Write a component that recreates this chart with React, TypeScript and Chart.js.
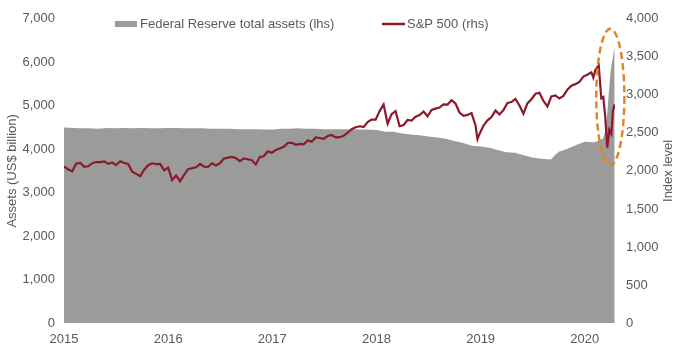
import React, { useEffect, useRef } from 'react';
import { Chart, registerables } from 'chart.js';

Chart.register(...registerables);

// ---------- data ----------
const fedDates = [
  '2015-01-01','2015-02-01','2015-03-01','2015-04-01','2015-05-01','2015-06-01','2015-07-01','2015-08-01','2015-09-01','2015-10-01','2015-11-01','2015-12-01',
  '2016-01-01','2016-02-01','2016-03-01','2016-04-01','2016-05-01','2016-06-01','2016-07-01','2016-08-01','2016-09-01','2016-10-01','2016-11-01','2016-12-01',
  '2017-01-01','2017-02-01','2017-03-01','2017-04-01','2017-05-01','2017-06-01','2017-07-01','2017-08-01','2017-09-01','2017-10-01','2017-11-01','2017-12-01',
  '2018-01-01','2018-02-01','2018-03-01','2018-04-01','2018-05-01','2018-06-01','2018-07-01','2018-08-01','2018-09-01','2018-10-01','2018-11-01','2018-12-01',
  '2019-01-01','2019-02-01','2019-03-01','2019-04-01','2019-05-01','2019-06-01','2019-07-01','2019-08-01','2019-09-04','2019-09-18','2019-10-02','2019-11-06','2019-12-04',
  '2020-01-01','2020-02-05','2020-03-04','2020-03-11','2020-03-18','2020-03-25','2020-04-01','2020-04-08','2020-04-15',
];
const fedValues = [
  4500,4490,4480,4480,4470,4490,4480,4490,4480,4490,4480,4480,
  4490,4490,4480,4480,4480,4470,4470,4470,4460,4460,4460,4450,
  4450,4470,4470,4480,4470,4470,4460,4460,4460,4460,4450,4450,
  4440,4400,4400,4360,4340,4320,4290,4270,4240,4190,4140,4080,
  4060,4030,3980,3930,3920,3860,3810,3780,3760,3860,3940,4020,4100,
  4170,4160,4240,4360,4670,5250,5810,6080,6370,
];

const spDates = [
  '2015-01-02','2015-01-16','2015-01-30','2015-02-13','2015-02-27','2015-03-13','2015-03-27','2015-04-10','2015-04-24','2015-05-08','2015-05-22','2015-06-05','2015-06-19','2015-07-02','2015-07-17','2015-07-31','2015-08-14','2015-08-28','2015-09-11','2015-09-25','2015-10-09','2015-10-23','2015-11-06','2015-11-20','2015-12-04','2015-12-18',
  '2016-01-01','2016-01-15','2016-01-29','2016-02-12','2016-02-26','2016-03-11','2016-03-24','2016-04-08','2016-04-22','2016-05-06','2016-05-20','2016-06-03','2016-06-17','2016-07-01','2016-07-15','2016-07-29','2016-08-12','2016-08-26','2016-09-09','2016-09-23','2016-10-07','2016-10-21','2016-11-04','2016-11-18','2016-12-02','2016-12-16','2016-12-30',
  '2017-01-13','2017-01-27','2017-02-10','2017-02-24','2017-03-10','2017-03-24','2017-04-07','2017-04-21','2017-05-05','2017-05-19','2017-06-02','2017-06-16','2017-06-30','2017-07-14','2017-07-28','2017-08-11','2017-08-25','2017-09-08','2017-09-22','2017-10-06','2017-10-20','2017-11-03','2017-11-17','2017-12-01','2017-12-15','2017-12-29',
  '2018-01-12','2018-01-26','2018-02-09','2018-02-23','2018-03-09','2018-03-23','2018-04-06','2018-04-20','2018-05-04','2018-05-18','2018-06-01','2018-06-15','2018-06-29','2018-07-13','2018-07-27','2018-08-10','2018-08-24','2018-09-07','2018-09-21','2018-10-05','2018-10-19','2018-11-02','2018-11-16','2018-11-30','2018-12-14','2018-12-21','2018-12-28',
  '2019-01-11','2019-01-25','2019-02-08','2019-02-22','2019-03-08','2019-03-22','2019-04-05','2019-04-19','2019-05-03','2019-05-17','2019-05-31','2019-06-14','2019-06-28','2019-07-12','2019-07-26','2019-08-09','2019-08-23','2019-09-06','2019-09-20','2019-10-04','2019-10-18','2019-11-01','2019-11-15','2019-11-29','2019-12-13','2019-12-27',
  '2020-01-10','2020-01-24','2020-01-31','2020-02-07','2020-02-19','2020-02-28','2020-03-06','2020-03-13','2020-03-20','2020-03-27','2020-04-03','2020-04-09','2020-04-15',
];
const spValues = [
  2058,2019,1995,2096,2104,2053,2061,2102,2117,2116,2126,2092,2110,2077,2127,2104,2092,1989,1961,1931,2015,2075,2100,2089,2092,2006,
  2044,1880,1940,1865,1948,2022,2035,2048,2092,2057,2052,2099,2071,2103,2162,2174,2184,2169,2128,2165,2153,2141,2085,2182,2192,2258,2239,
  2275,2295,2317,2367,2373,2344,2356,2349,2399,2382,2439,2433,2423,2459,2472,2441,2443,2461,2502,2549,2575,2587,2578,2642,2675,2674,
  2786,2873,2620,2747,2786,2588,2604,2670,2663,2713,2735,2780,2718,2801,2819,2833,2875,2872,2930,2886,2768,2723,2736,2760,2600,2417,2486,
  2596,2665,2708,2793,2743,2800,2893,2905,2946,2860,2752,2887,2942,3014,3026,2919,2847,2979,2992,2952,2986,3067,3120,3141,3169,3240,
  3265,3295,3226,3328,3386,2954,2972,2711,2305,2541,2489,2790,2875,
];

const yearTicks = [2015, 2016, 2017, 2018, 2019, 2020];
const xMin = 2015;
const xMax = 2020.29;

const legendFed = 'Federal Reserve total assets (lhs)';
const legendSp = 'S&P 500 (rhs)';
const leftTitle = 'Assets (US$ billion)';
const rightTitle = 'Index level';

// ellipse annotation in data units (x: years, y: left axis)
const ellipseCenter = { x: 2020.245, y: 5200 };
const ellipseHalf = { x: 0.135, y: 1570 };

// ---------- styles ----------
const AREA = '#9b9b9b';
const LINE = '#8c1a2b';
const TEXT = '#595959';
const ORANGE = '#e0862a';
const FONT_FAMILY = '"Liberation Sans", Arial, sans-serif';

function toYear(d: string): number {
  const [y, m, dd] = d.split('-').map(Number);
  const start = Date.UTC(y, 0, 1);
  const end = Date.UTC(y + 1, 0, 1);
  return y + (Date.UTC(y, m - 1, dd) - start) / (end - start);
}

const overlayPlugin = {
  id: 'overlay',
  afterDraw(chart: any) {
    const ctx = chart.ctx as CanvasRenderingContext2D;
    const area = chart.chartArea;
    const xs = chart.scales.x;
    const ys = chart.scales.y;
    ctx.save();
    // ellipse
    const cx = xs.getPixelForValue(ellipseCenter.x);
    const cy = ys.getPixelForValue(ellipseCenter.y);
    const rx = Math.abs(xs.getPixelForValue(ellipseCenter.x + ellipseHalf.x) - cx);
    const ry = Math.abs(ys.getPixelForValue(ellipseCenter.y + ellipseHalf.y) - cy);
    ctx.beginPath();
    ctx.ellipse(cx, cy, rx, ry, 0, 0, Math.PI * 2);
    ctx.strokeStyle = ORANGE;
    ctx.lineWidth = 2.5;
    ctx.setLineDash([7, 4]);
    ctx.stroke();
    ctx.setLineDash([]);

    // legend
    ctx.font = `13px ${FONT_FAMILY}`;
    ctx.textBaseline = 'middle';
    ctx.textAlign = 'left';
    ctx.fillStyle = AREA;
    ctx.fillRect(115, 21, 22, 6);
    ctx.fillStyle = TEXT;
    ctx.fillText(legendFed, 140, 24);
    ctx.beginPath();
    ctx.moveTo(382, 24);
    ctx.lineTo(405, 24);
    ctx.strokeStyle = LINE;
    ctx.lineWidth = 2.5;
    ctx.stroke();
    ctx.fillText(legendSp, 407, 24);

    // axis titles
    const midY = (area.top + area.bottom) / 2;
    ctx.textAlign = 'center';
    ctx.save();
    ctx.translate(12, midY);
    ctx.rotate(-Math.PI / 2);
    ctx.fillText(leftTitle, 0, 0);
    ctx.restore();
    ctx.save();
    ctx.translate(668, midY);
    ctx.rotate(-Math.PI / 2);
    ctx.fillText(rightTitle, 0, 0);
    ctx.restore();
    ctx.restore();
  },
};

export default function App() {
  const ref = useRef<HTMLCanvasElement | null>(null);

  useEffect(() => {
    if (!ref.current) return;
    const font = { family: FONT_FAMILY, size: 13 };
    const chart = new Chart(ref.current, {
      type: 'line',
      data: {
        datasets: [
          {
            label: legendSp,
            data: spDates.map((d, i) => ({ x: toYear(d), y: spValues[i] })),
            yAxisID: 'y2',
            borderColor: LINE,
            borderWidth: 2.2,
            pointRadius: 0,
            fill: false,
            tension: 0,
            order: 0,
          },
          {
            label: legendFed,
            data: fedDates.map((d, i) => ({ x: toYear(d), y: fedValues[i] })),
            yAxisID: 'y',
            borderWidth: 0,
            borderColor: AREA,
            backgroundColor: AREA,
            pointRadius: 0,
            fill: 'origin',
            tension: 0,
            order: 1,
          },
        ],
      },
      options: {
        animation: false,
        responsive: false,
        maintainAspectRatio: false,
        layout: { padding: { top: 10, left: 0, right: 0, bottom: 0 } },
        plugins: {
          legend: { display: false },
          tooltip: { enabled: false },
        },
        scales: {
          x: {
            type: 'linear',
            min: xMin,
            max: xMax,
            grid: { display: false, drawTicks: false },
            border: { display: false },
            ticks: {
              padding: 9,
              font,
              color: TEXT,
              maxRotation: 0,
              callback: (v: any) => String(v),
            },
            afterBuildTicks: (s: any) => {
              s.ticks = yearTicks.map((v) => ({ value: v }));
            },
            afterFit: (s: any) => {
              s.height = 27;
            },
          },
          y: {
            type: 'linear',
            position: 'left',
            min: 0,
            max: 7000,
            grid: { display: false, drawTicks: false },
            border: { display: false },
            ticks: {
              stepSize: 1000,
              padding: 9,
              font,
              color: TEXT,
              callback: (v: any) => Number(v).toLocaleString('en-US'),
            },
            afterFit: (s: any) => {
              s.width = 64;
            },
          },
          y2: {
            type: 'linear',
            position: 'right',
            min: 0,
            max: 4000,
            grid: { display: false, drawTicks: false },
            border: { display: false },
            ticks: {
              stepSize: 500,
              padding: 11,
              font,
              color: TEXT,
              callback: (v: any) => Number(v).toLocaleString('en-US'),
            },
            afterFit: (s: any) => {
              s.width = 65;
            },
          },
        },
      },
      plugins: [overlayPlugin],
    } as any);
    return () => chart.destroy();
  }, []);

  return (
    <div style={{ position: 'fixed', left: 0, top: 0, width: 680, height: 350, background: '#fff' }}>
      <canvas ref={ref} width={680} height={350} style={{ width: 680, height: 350, display: 'block' }} />
    </div>
  );
}
